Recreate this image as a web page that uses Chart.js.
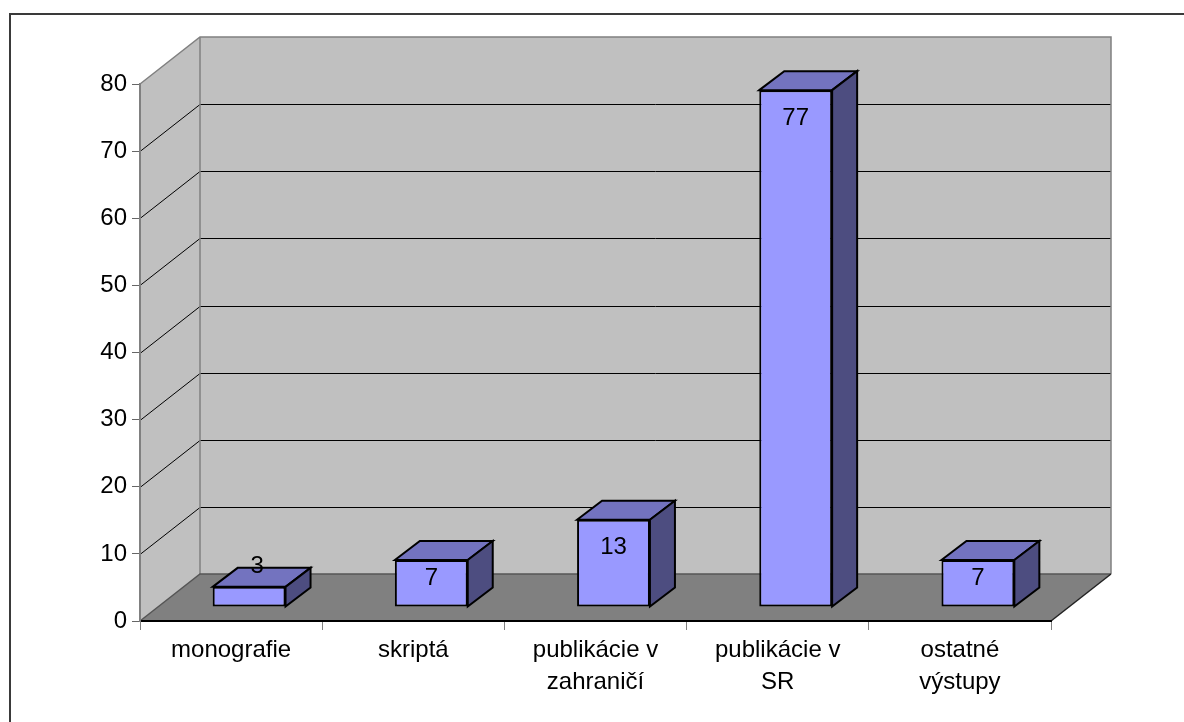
<!DOCTYPE html>
<html>
<head>
<meta charset="utf-8">
<script src="https://cdn.jsdelivr.net/npm/chart.js@4"></script>
<style>
  body { margin: 0; background: #fff; }
  #wrap { position: relative; width: 1184px; height: 722px; overflow: hidden; }
  #frame { position: absolute; left: 9px; top: 13px; width: 1200px; height: 740px; border: 2px solid #3a3a3a; box-sizing: border-box; }
  canvas { position: absolute; left: 0; top: 0; }
</style>
</head>
<body>
<div id="wrap">
  <div id="frame"></div>
  <canvas id="grafico" width="1184" height="722"></canvas>
</div>
<script>
const kategorie = ["monografie", "skriptá", ["publikácie v", "zahraničí"], ["publikácie v", "SR"], ["ostatné", "výstupy"]];
const hodnoty = [3, 7, 13, 77, 7];
const osMin = 0;
const osMax = 80;
const osKrok = 10;

const FARBY = {
  stena: '#c0c0c0',
  podlaha: '#808080',
  hrana: '#808080',
  predok: '#9999ff',
  vrch: '#7373bf',
  bok: '#4d4d80'
};

// posun zadnej steny a stlpcov (3D pohlad)
const HLBKA = { dx: 60, dy: -47 };
const POSUN = { dx: 18, dy: -14 };
const STLPEC = { dx: 25, dy: -19 };
const PISMO = "'Liberation Sans', Arial, sans-serif";

const ramec3d = {
  id: 'ramec3d',
  beforeDraw(chart) {
    const ctx = chart.ctx;
    const y = chart.scales.y;
    const a = chart.chartArea;
    const l = a.left, r = a.right, t = a.top, b = a.bottom;
    const dx = HLBKA.dx, dy = HLBKA.dy;
    ctx.save();
    // zadna stena
    ctx.fillStyle = FARBY.stena;
    ctx.fillRect(l + dx, t + dy, r - l, b - t);
    // lava stena
    ctx.beginPath();
    ctx.moveTo(l, t); ctx.lineTo(l + dx, t + dy); ctx.lineTo(l + dx, b + dy); ctx.lineTo(l, b);
    ctx.closePath();
    ctx.fill();
    // podlaha
    ctx.fillStyle = FARBY.podlaha;
    ctx.beginPath();
    ctx.moveTo(l, b); ctx.lineTo(r, b); ctx.lineTo(r + dx, b + dy); ctx.lineTo(l + dx, b + dy);
    ctx.closePath();
    ctx.fill();

    // mriezka
    ctx.strokeStyle = '#000';
    ctx.lineWidth = 1;
    for (let v = osMin + osKrok; v < osMax; v += osKrok) {
      const py = Math.round(y.getPixelForValue(v)) + 0.5;
      ctx.beginPath();
      ctx.moveTo(l, py); ctx.lineTo(l + dx, py + dy); ctx.lineTo(r + dx, py + dy);
      ctx.stroke();
    }

    // hrany stien
    ctx.strokeStyle = FARBY.hrana;
    ctx.lineWidth = 1.5;
    ctx.beginPath();
    ctx.moveTo(l, t); ctx.lineTo(l + dx, t + dy); ctx.lineTo(r + dx, t + dy); ctx.lineTo(r + dx, b + dy);
    ctx.moveTo(l + dx, t + dy); ctx.lineTo(l + dx, b + dy);
    ctx.stroke();
    ctx.strokeStyle = '#555';
    ctx.beginPath();
    ctx.moveTo(l, b); ctx.lineTo(l + dx, b + dy); ctx.lineTo(r + dx, b + dy);
    ctx.stroke();
    ctx.strokeStyle = '#222';
    ctx.beginPath();
    ctx.moveTo(r, b); ctx.lineTo(r + dx, b + dy);
    ctx.stroke();
    ctx.restore();
  },
  beforeDatasetsDraw(chart) {
    chart.ctx.save();
    chart.ctx.translate(POSUN.dx, POSUN.dy);
  },
  afterDatasetsDraw(chart) {
    const ctx = chart.ctx;
    const meta = chart.getDatasetMeta(0);
    const data = chart.data.datasets[0].data;
    ctx.lineWidth = 2;
    ctx.strokeStyle = '#000';
    ctx.lineJoin = 'miter';
    meta.data.forEach((bar, i) => {
      const p = bar.getProps(['x', 'y', 'base', 'width'], true);
      const l = p.x - p.width / 2, r = p.x + p.width / 2;
      const top = p.y, base = p.base;
      // vrch
      ctx.fillStyle = FARBY.vrch;
      ctx.beginPath();
      ctx.moveTo(l, top); ctx.lineTo(l + STLPEC.dx, top + STLPEC.dy);
      ctx.lineTo(r + STLPEC.dx, top + STLPEC.dy); ctx.lineTo(r, top);
      ctx.closePath();
      ctx.fill(); ctx.stroke();
      // bok
      ctx.fillStyle = FARBY.bok;
      ctx.beginPath();
      ctx.moveTo(r, top); ctx.lineTo(r + STLPEC.dx, top + STLPEC.dy);
      ctx.lineTo(r + STLPEC.dx, base + STLPEC.dy); ctx.lineTo(r, base);
      ctx.closePath();
      ctx.fill(); ctx.stroke();

      // popis hodnoty
      const vyska = base - top;
      let lx = p.x, ly;
      if (vyska < 30) { ly = top - 20; lx = p.x + 8; }
      else { ly = Math.min(top + 28, base - 28); }
      ctx.fillStyle = '#000';
      ctx.font = '24px ' + PISMO;
      ctx.textAlign = 'center';
      ctx.textBaseline = 'middle';
      ctx.fillText(String(data[i]), lx, ly);
    });
    ctx.restore();
  }
};

new Chart(document.getElementById('grafico'), {
  type: 'bar',
  data: {
    labels: kategorie,
    datasets: [{
      data: hodnoty,
      backgroundColor: FARBY.predok,
      borderColor: '#000',
      borderWidth: 2,
      borderSkipped: false,
      categoryPercentage: 1,
      barPercentage: 0.4
    }]
  },
  options: {
    responsive: false,
    animation: false,
    layout: { padding: { top: 84, right: 133, left: 0, bottom: 0 } },
    plugins: { legend: { display: false }, tooltip: { enabled: false } },
    scales: {
      x: {
        grid: { drawOnChartArea: false, tickLength: 9, tickColor: '#808080', offset: true },
        border: { color: '#000', width: 2 },
        ticks: {
          color: '#000', font: { family: PISMO, size: 24, lineHeight: 1.33 },
          padding: 4, maxRotation: 0, autoSkip: false
        },
        afterFit(s) { s.height = 101; }
      },
      y: {
        min: osMin, max: osMax,
        grid: { drawOnChartArea: false, tickLength: 8, tickColor: '#666' },
        border: { color: FARBY.hrana, width: 2 },
        ticks: { stepSize: osKrok, color: '#000', font: { family: PISMO, size: 24 }, padding: 5 },
        afterFit(s) { s.width = 140; }
      }
    }
  },
  plugins: [ramec3d]
});
</script>
</body>
</html>
